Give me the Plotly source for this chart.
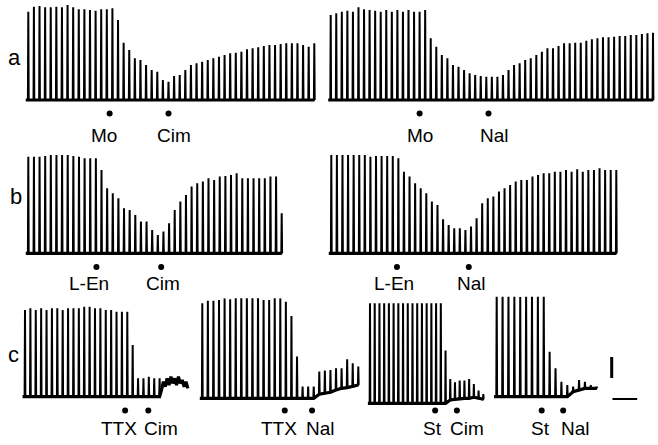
import plotly.graph_objects as go

W, H = 658, 445

# ---------------- data: twitch heights read from the recordings ----------------
# (pen deflection, arbitrary units; one entry per electrically evoked twitch)
a_left_peaks = [265, 280, 282, 278, 278, 280, 278, 285, 278, 272, 272, 270, 268, 272, 272,
                275, 240, 172, 150, 125, 120, 105, 90, 85, 60, 55, 72, 75, 90,
                105, 110, 115, 120, 125, 130, 135, 140, 142, 145, 152, 155, 158, 162,
                165, 165, 168, 170, 170, 170, 165, 160, 170]
a_left_drugs = ["Mo", "Cim"]
a_left_times = [14.5, 25.0]

a_right_peaks = [255, 260, 265, 268, 265, 278, 272, 270, 268, 265, 270, 265, 270, 265, 270, 265, 265, 270,
                 185, 160, 135, 125, 105, 100, 90, 80, 75, 72,
                 70, 70, 70, 75, 90, 105, 110, 120, 125, 135,
                 145, 155, 155, 162, 170, 170, 172, 172, 178, 182,
                 185, 188, 188, 190, 192, 192, 195, 195, 198, 200, 202]
a_right_drugs = ["Mo", "Nal"]
a_right_times = [16.0, 28.4]

b_left_peaks = [290, 290, 290, 292, 295, 295, 295, 295, 292, 290, 285, 285, 285,
                250, 195, 180, 165, 135, 130, 115, 95, 95, 70, 55, 65,
                90, 130, 155, 175, 200, 210, 215, 225, 220, 230, 232, 235, 240,
                225, 225, 225, 225, 225, 230, 230, 120]
b_left_drugs = ["L-En", "Cim"]
b_left_times = [12.1, 23.6]

b_right_peaks = [295, 295, 295, 295, 295, 295, 295, 290, 292, 292, 292, 292, 285,
                 245, 230, 210, 195, 180, 155, 145, 102, 85, 75, 75, 70, 80,
                 105, 150, 165, 170, 185, 195, 205, 215, 220, 220, 230, 235,
                 240, 240, 245, 245, 250, 245, 252, 245, 250, 250, 255, 250, 250, 250]
b_right_drugs = ["L-En", "Nal"]
b_right_times = [11.75, 24.6]

c1_peaks = [260, 265, 260, 265, 260, 265, 265, 260, 265, 265, 265, 270, 270, 265, 265, 260, 260, 255, 255, 255,
            155, 55, 55, 60, 55, 55]
c1_tail = [20, 45, 30, 55, 35, 60, 40, 55, 35, 60, 40, 50, 30, 45, 25]
c1_drugs = ["TTX", "Cim"]
c1_times = [18.6, 22.9]

c2_peaks = [285, 293, 293, 295, 300, 297, 305, 313, 315, 307, 313, 295, 295, 303, 300, 290,
            247, 125, 35, 35, 35, 80, 83, 85, 90, 90, 117, 105, 95]
c2_troughs = [0] * 21 + [12, 15, 18, 25, 30, 32, 35, 40]
c2_drugs = ["TTX", "Nal"]
c2_times = [14.8, 19.7]

c3_peaks = [323, 323, 318, 323, 323, 318, 323, 308, 303, 308, 318, 323, 328, 323, 323, 313,
            158, 73, 63, 68, 68, 73, 58, 38, 28]
c3_troughs = [0] * 17 + [10, 12, 15, 15, 15, 18, 15, 12]
c3_drugs = ["St", "Cim"]
c3_times = [13.8, 18.4]

c4_peaks = [320, 320, 312, 310, 300, 310, 318, 305, 302, 135, 85, 45, 35, 30, 50, 45, 35, 30]
c4_troughs = [0] * 13 + [15, 20, 25, 25, 25]
c4_drugs = ["St", "Nal"]
c4_times = [7.65, 11.3]

SCALE_TENSION = 63    # calibration bar, tension units
SCALE_TIME = 4.2      # calibration bar, twitch intervals

# ---------------- layout (screen geometry) ----------------
panels = [
    dict(peaks=a_left_peaks, drugs=a_left_drugs, times=a_left_times,
         x0=28.3, x1=314.3, base=100, row="a", shifts=[-6, 6]),
    dict(peaks=a_right_peaks, drugs=a_right_drugs, times=a_right_times,
         x0=330.7, x1=653.0, base=100, row="a", shifts=[0, 6]),
    dict(peaks=b_left_peaks, drugs=b_left_drugs, times=b_left_times,
         x0=28.3, x1=281.7, base=253.3, row="b", shifts=[-7, 2]),
    dict(peaks=b_right_peaks, drugs=b_right_drugs, times=b_right_times,
         x0=331.3, x1=616.3, base=253.3, row="b", shifts=[-3, 3]),
    dict(peaks=c1_peaks, tail=c1_tail, drugs=c1_drugs, times=c1_times,
         x0=25.0, x1=159.6, base=396.7, row="c", shifts=[-6, 13]),
    dict(peaks=c2_peaks, troughs=c2_troughs, drugs=c2_drugs, times=c2_times,
         x0=202.3, x1=358.3, base=398.3, row="c", shifts=[-6, 8]),
    dict(peaks=c3_peaks, troughs=c3_troughs, drugs=c3_drugs, times=c3_times,
         x0=370.0, x1=483.3, base=403.3, row="c", shifts=[-3, 10]),
    dict(peaks=c4_peaks, troughs=c4_troughs, drugs=c4_drugs, times=c4_times,
         x0=496.7, x1=596.7, base=396.7, row="c", shifts=[-1, 12], pad_r=7.6, scalebar=True),
]
ROWS = {"a": dict(dot=113.5, label=135.0),
        "b": dict(dot=267.0, label=283.0),
        "c": dict(dot=410.5, label=428.5)}
LETTERS = [("a", 14, 57), ("b", 16, 197), ("c", 13, 354)]

U = 3.0          # data units per screen pixel (vertical)
YLO, YHI = -120, 300
TAIL_STEP = 0.35
FONT = dict(family="Liberation Sans, Arial, sans-serif", size=19, color="black")

fig = go.Figure()
annotations = []
layout_axes = {}

for k, p in enumerate(panels, start=1):
    n = len(p["peaks"])
    troughs = p.get("troughs") or [0] * n
    tail = p.get("tail") or []
    sp = (p["x1"] - p["x0"]) / (n - 1)
    tail_x = [n - 1 + (j + 1) * TAIL_STEP for j in range(len(tail))]
    xmin = -0.6
    xmax = (tail_x[-1] if tail_x else n - 1) + p.get("pad_r", 0.6)
    dom_x = [max(0, (p["x0"] + xmin * sp) / W), min(1, (p["x0"] + xmax * sp) / W)]
    base = p["base"]
    yhi = min(YHI, base * U)
    dom_y = [(H - base + YLO / U) / H, min(1.0, (H - base + yhi / U) / H)]

    xname = "x" if k == 1 else f"x{k}"
    yname = "y" if k == 1 else f"y{k}"
    layout_axes["xaxis" if k == 1 else f"xaxis{k}"] = dict(
        domain=dom_x, range=[xmin, xmax], visible=False, anchor=yname, fixedrange=True)
    layout_axes["yaxis" if k == 1 else f"yaxis{k}"] = dict(
        domain=dom_y, range=[YLO, yhi], visible=False, anchor=xname, fixedrange=True)

    # twitch spikes
    sx, sy = [], []
    for i, (pk, tr) in enumerate(zip(p["peaks"], troughs)):
        sx += [i - 0.07, i, i + 0.07]
        sy += [tr, pk, tr]
    fig.add_trace(go.Scatter(x=sx, y=sy, mode="lines", xaxis=xname, yaxis=yname,
                             line=dict(color="black", width=2.0), hoverinfo="skip",
                             showlegend=False))
    # thick baseline (+ tail)
    bx = [xmin + 0.15] + list(range(n)) + tail_x
    by = [troughs[0]] + list(troughs) + list(tail)
    fig.add_trace(go.Scatter(x=bx, y=by, mode="lines", xaxis=xname, yaxis=yname,
                             line=dict(color="black", width=3.2), hoverinfo="skip",
                             showlegend=False))
    # drug application dots
    row = ROWS[p["row"]]
    dot_y = (base - row["dot"]) * U
    fig.add_trace(go.Scatter(x=p["times"], y=[dot_y] * len(p["times"]), mode="markers",
                             xaxis=xname, yaxis=yname, marker=dict(color="black", size=6),
                             hoverinfo="skip", showlegend=False))
    lab_y = (base - row["label"]) * U
    for name, t, sh in zip(p["drugs"], p["times"], p["shifts"]):
        annotations.append(dict(x=t, y=lab_y, xref=xname, yref=yname, text=name,
                                showarrow=False, xshift=sh, font=FONT,
                                xanchor="center", yanchor="middle"))

    if p.get("scalebar"):
        vx = (611.7 - p["x0"]) / sp
        vy0 = (base - 378) * U
        fig.add_trace(go.Scatter(x=[vx, vx], y=[vy0, vy0 + SCALE_TENSION], mode="lines",
                                 xaxis=xname, yaxis=yname, line=dict(color="black", width=3),
                                 hoverinfo="skip", showlegend=False))
        hx0 = (612.5 - p["x0"]) / sp
        hy = (base - 399) * U
        fig.add_trace(go.Scatter(x=[hx0, hx0 + SCALE_TIME], y=[hy, hy], mode="lines",
                                 xaxis=xname, yaxis=yname, line=dict(color="black", width=2),
                                 hoverinfo="skip", showlegend=False))

for txt, px, py in LETTERS:
    annotations.append(dict(x=px / W, y=1 - py / H, xref="paper", yref="paper", text=txt,
                            showarrow=False, xanchor="center", yanchor="middle",
                            font=dict(family="Liberation Sans, Arial, sans-serif", size=22,
                                      color="black")))

fig.update_layout(
    width=W, height=H, margin=dict(l=0, r=0, t=0, b=0),
    paper_bgcolor="white", plot_bgcolor="rgba(0,0,0,0)",
    showlegend=False, annotations=annotations, **layout_axes)

fig.write_html("out.html", config={"displayModeBar": False, "staticPlot": True},
               post_script="document.body.style.margin='0';document.body.style.overflow='hidden';")
